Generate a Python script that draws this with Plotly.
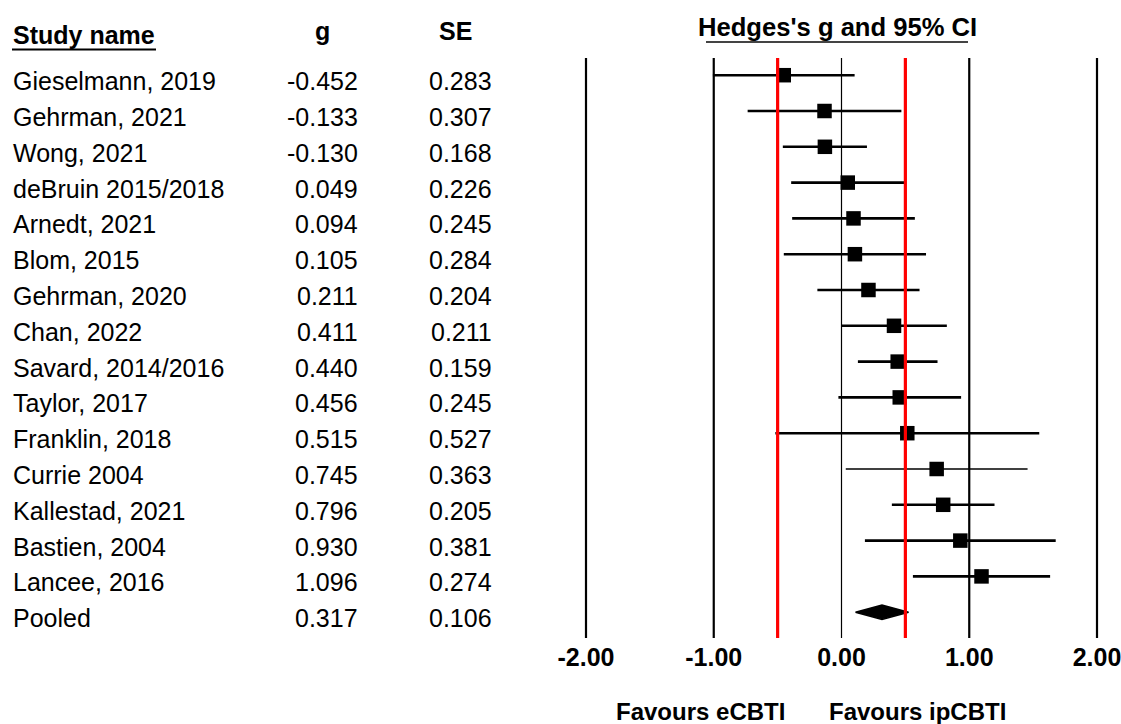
import plotly.graph_objects as go

studies = ["Gieselmann, 2019", "Gehrman, 2021", "Wong, 2021", "deBruin 2015/2018",
           "Arnedt, 2021", "Blom, 2015", "Gehrman, 2020", "Chan, 2022",
           "Savard, 2014/2016", "Taylor, 2017", "Franklin, 2018", "Currie 2004",
           "Kallestad, 2021", "Bastien, 2004", "Lancee, 2016"]
g_vals = [-0.452, -0.133, -0.130, 0.049, 0.094, 0.105, 0.211, 0.411,
          0.440, 0.456, 0.515, 0.745, 0.796, 0.930, 1.096]
se_vals = [0.283, 0.307, 0.168, 0.226, 0.245, 0.284, 0.204, 0.211,
           0.159, 0.245, 0.527, 0.363, 0.205, 0.381, 0.274]
pooled_label = "Pooled"
pooled_g = 0.317
pooled_se = 0.106
tick_vals = [-2, -1, 0, 1, 2]
ref_lines = [-0.5, 0.5]
thin_ci_studies = ["Currie 2004"]

FONT = "Liberation Sans, Arial, sans-serif"
FS = 25
W, H = 1121, 724
row0_px, row_step = 75.2, 35.8
text_dy = 0.165
plot_bottom_px = 640

def row_of_px(px):
    return (px - row0_px) / row_step

n = len(studies)
rows = list(range(n))
pooled_row = n

fig = go.Figure()

thick_idx = [i for i in rows if studies[i] not in thin_ci_studies]
thin_idx = [i for i in rows if studies[i] in thin_ci_studies]
for idx, th in ((thick_idx, 2.6), (thin_idx, 1.5)):
    fig.add_trace(go.Scatter(
        x=[g_vals[i] for i in idx], y=[i for i in idx], mode="markers",
        marker=dict(symbol="square", size=14.5, color="black"),
        error_x=dict(type="data", symmetric=True,
                     array=[1.96 * se_vals[i] for i in idx],
                     color="black", thickness=th, width=0),
        showlegend=False, hoverinfo="skip"))

lo, hi = pooled_g - 1.96 * pooled_se, pooled_g + 1.96 * pooled_se
hh = 0.2
fig.add_trace(go.Scatter(
    x=[lo, pooled_g, hi, pooled_g, lo],
    y=[pooled_row, pooled_row - hh, pooled_row, pooled_row + hh, pooled_row],
    mode="lines", fill="toself", fillcolor="black",
    line=dict(color="black", width=1.5), showlegend=False, hoverinfo="skip"))

shapes = []
y_top, y_bot = row_of_px(58), row_of_px(638)
for v in tick_vals:
    shapes.append(dict(type="line", xref="x", yref="y", x0=v, x1=v, y0=y_top, y1=y_bot,
                       line=dict(color="black", width=1.2 if v == 0 else 2.2), layer="below"))
for v in ref_lines:
    shapes.append(dict(type="line", xref="x", yref="y", x0=v, x1=v, y0=y_top, y1=y_bot,
                       line=dict(color="#ff0000", width=3.2), layer="above"))
shapes.append(dict(type="line", xref="paper", yref="paper", x0=12 / W, x1=156 / W,
                   y0=1 - 49.5 / H, y1=1 - 49.5 / H, line=dict(color="black", width=2)))
shapes.append(dict(type="line", xref="paper", yref="paper", x0=706 / W, x1=968 / W,
                   y0=1 - 42 / H, y1=1 - 42 / H, line=dict(color="#444444", width=2)))

ann = []
def txt(text, x_px, y_row, anchor="left", bold=False, yref="y", size=FS):
    ann.append(dict(text=f"<b>{text}</b>" if bold else text, x=x_px / W, xref="paper",
                    y=y_row, yref=yref, xanchor=anchor, yanchor="middle", showarrow=False,
                    font=dict(family=FONT, size=size, color="black")))

labels = studies + [pooled_label]
gs = g_vals + [pooled_g]
ses = se_vals + [pooled_se]
for r, (lab, gv, sv) in enumerate(zip(labels, gs, ses)):
    txt(lab, 11, r + text_dy, "left")
    txt(f"{gv:.3f}", 360, r + text_dy, "right")
    txt(f"{sv:.3f}", 494, r + text_dy, "right")

txt("Study name", 11, row_of_px(35), "left", bold=True)
txt("g", 322, row_of_px(31), "center", bold=True)
txt("SE", 455, row_of_px(31), "center", bold=True)
txt("Hedges's g and 95% CI", 837, row_of_px(27), "center", bold=True, size=25.6)
txt("Favours eCBTI", 700, 1 - 711 / H, "center", bold=True, yref="paper", size=24)
txt("Favours ipCBTI", 917, 1 - 711 / H, "center", bold=True, yref="paper", size=24)

unit = (1097 - 586) / 4
x_lo_px = 586 - 0.12 * unit
x_hi_px = 1097 + 0.12 * unit

fig.update_layout(
    width=W, height=H, margin=dict(l=0, r=0, t=0, b=0, pad=0),
    paper_bgcolor="white", plot_bgcolor="white",
    shapes=shapes, annotations=ann,
    xaxis=dict(domain=[x_lo_px / W, x_hi_px / W], range=[-2.12, 2.12],
               showgrid=False, zeroline=False, showline=False, automargin=False,
               tickmode="array", tickvals=tick_vals, ticklabeloverflow="allow",
               ticktext=[f"{v:.2f}" for v in tick_vals], ticks="", ticklen=0,
               tickfont=dict(family=FONT, size=FS, color="black", weight="bold")),
    yaxis=dict(domain=[1 - plot_bottom_px / H, 1], automargin=False,
               range=[row_of_px(plot_bottom_px), row_of_px(0)],
               showgrid=False, zeroline=False, showline=False, showticklabels=False),
)

fig.write_html("out.html",
               post_script="document.body.style.margin='0px';document.body.style.overflow='hidden';")
